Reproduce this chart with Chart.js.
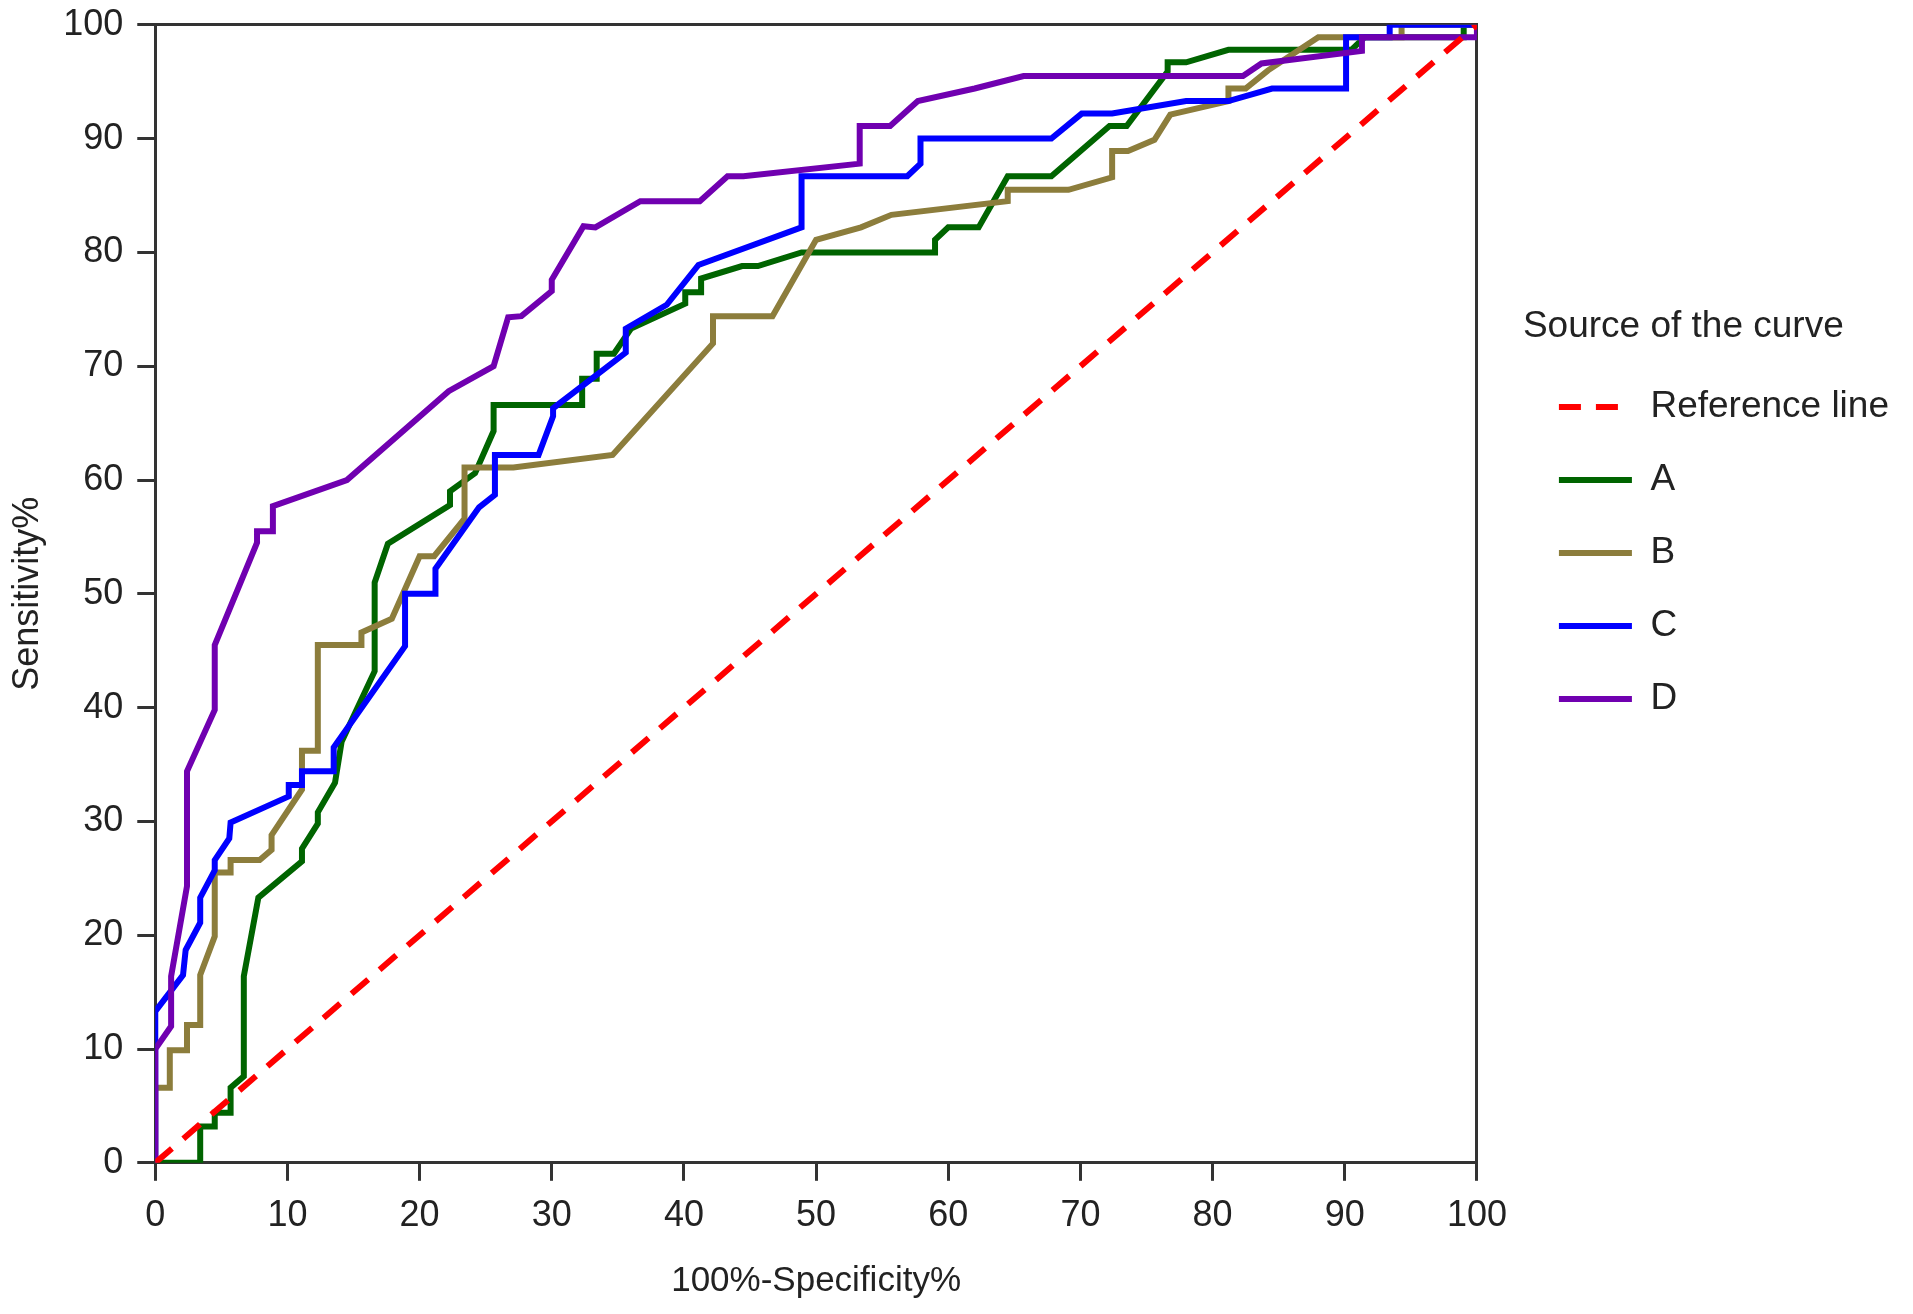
<!DOCTYPE html>
<html>
<head>
<meta charset="utf-8">
<title>ROC curves</title>
<script src="https://cdn.jsdelivr.net/npm/chart.js@4"></script>
<style>
  html, body { margin: 0; padding: 0; background: #fff; }
  #wrap { width: 1913px; height: 1314px; }
</style>
</head>
<body>
<div id="wrap"><canvas id="myChart"></canvas></div>
<script>
// curve data: 100%-Specificity% (x) and Sensitivity% (y)
var refX = [0, 100];
var refY = [0, 100];

var aX = [0, 3.4, 3.4, 4.5, 4.5, 5.7, 5.7, 6.7, 6.7, 7.8, 11.1, 11.1, 12.3, 12.3, 13.6, 14.1, 16.6, 16.6, 17.6, 22.3, 22.3, 24.2, 25.6, 25.6, 32.3, 32.3, 33.4, 33.4, 34.7, 36.0, 40.1, 40.1, 41.3, 41.3, 44.4, 45.6, 48.9, 59.0, 59.0, 60.0, 62.3, 64.5, 67.8, 72.2, 73.5, 76.6, 76.6, 78.0, 81.2, 90.5, 91.5, 99.0, 99.0, 100];
var aY = [0, 0, 3.2, 3.2, 4.4, 4.4, 6.6, 7.6, 16.4, 23.3, 26.5, 27.6, 29.8, 30.8, 33.4, 37.0, 43.2, 51.0, 54.4, 57.8, 59.0, 60.6, 64.3, 66.6, 66.6, 68.9, 68.9, 71.1, 71.1, 73.3, 75.5, 76.5, 76.5, 77.7, 78.8, 78.8, 80.0, 80.0, 81.1, 82.2, 82.2, 86.7, 86.7, 91.1, 91.1, 95.9, 96.7, 96.7, 97.8, 97.8, 98.9, 98.9, 100, 100];

var bX = [0, 0, 1.1, 1.1, 2.4, 2.4, 3.4, 3.4, 4.5, 4.5, 5.7, 5.7, 7.9, 8.8, 8.8, 11.1, 11.1, 12.3, 12.3, 15.6, 15.6, 17.9, 20.0, 21.1, 23.4, 23.4, 27.1, 34.6, 42.2, 42.2, 46.7, 50.0, 53.4, 55.7, 64.5, 64.5, 69.1, 72.4, 72.4, 73.6, 75.6, 76.8, 81.2, 81.2, 82.5, 84.2, 88.0, 94.3, 94.3, 100];
var bY = [0, 6.6, 6.6, 9.9, 9.9, 12.1, 12.1, 16.5, 19.9, 25.5, 25.5, 26.6, 26.6, 27.5, 28.8, 32.8, 36.2, 36.2, 45.5, 45.5, 46.6, 47.8, 53.3, 53.3, 56.6, 61.1, 61.1, 62.2, 72.0, 74.4, 74.4, 81.1, 82.2, 83.3, 84.5, 85.5, 85.5, 86.6, 88.9, 88.9, 89.9, 92.1, 93.3, 94.4, 94.4, 96.0, 98.9, 98.9, 100, 100];

var cX = [0, 0, 2.1, 2.3, 3.4, 3.4, 4.5, 4.5, 5.6, 5.7, 10.1, 10.1, 11.1, 11.1, 13.5, 13.5, 18.9, 18.9, 21.2, 21.2, 24.5, 25.7, 25.7, 29.0, 30.1, 30.1, 35.6, 35.6, 38.7, 41.1, 48.9, 48.9, 56.9, 57.9, 57.9, 67.8, 70.1, 72.4, 78.0, 81.2, 84.5, 90.1, 90.1, 93.4, 93.4, 100];
var cY = [0, 13.3, 16.5, 18.7, 21.1, 23.3, 25.7, 26.6, 28.5, 29.9, 32.2, 33.2, 33.2, 34.4, 34.4, 36.5, 45.4, 50.0, 50.0, 52.2, 57.6, 58.7, 62.2, 62.2, 65.6, 66.3, 71.2, 73.3, 75.4, 78.9, 82.2, 86.7, 86.7, 87.8, 90.0, 90.0, 92.2, 92.2, 93.3, 93.3, 94.4, 94.4, 98.9, 98.9, 100, 100];

var dX = [0, 0, 1.2, 1.2, 2.4, 2.4, 4.5, 4.5, 7.7, 7.7, 8.9, 8.9, 14.5, 22.2, 25.6, 26.7, 27.7, 30.0, 30.0, 32.4, 33.3, 36.7, 41.2, 43.3, 44.5, 53.3, 53.3, 55.6, 57.7, 62.0, 65.7, 82.3, 83.7, 91.3, 91.3, 100, 100];
var dY = [0, 10.0, 12.0, 16.4, 24.3, 34.4, 39.8, 45.5, 54.5, 55.5, 55.5, 57.7, 60.0, 67.8, 70.0, 74.3, 74.4, 76.6, 77.6, 82.3, 82.2, 84.5, 84.5, 86.7, 86.7, 87.8, 91.1, 91.1, 93.3, 94.4, 95.5, 95.5, 96.6, 97.7, 98.9, 98.9, 100];

var xTicks = [0, 10, 20, 30, 40, 50, 60, 70, 80, 90, 100];

function pts(xs, ys) {
    return xs.map(function (x, i) { return { x: x, y: ys[i] }; });
}

var axisColor = '#333333';
var textColor = '#222222';
var fontFamily = "'Liberation Sans', Arial, Helvetica, sans-serif";

var ctx = document.getElementById('myChart').getContext('2d');
var chart = new Chart(ctx, {
    type: 'line',
    data: {
        datasets: [
            { label: 'Reference line', data: pts(refX, refY), borderColor: '#ff0000', borderWidth: 6, borderDash: [22, 15], order: 0 },
            { label: 'A', data: pts(aX, aY), borderColor: '#006400', borderWidth: 6, order: 4 },
            { label: 'B', data: pts(bX, bY), borderColor: '#8c7d3c', borderWidth: 6, order: 3 },
            { label: 'C', data: pts(cX, cY), borderColor: '#0000ff', borderWidth: 6, order: 2 },
            { label: 'D', data: pts(dX, dY), borderColor: '#7000b0', borderWidth: 6, order: 1 }
        ]
    },
    options: {
        responsive: true,
        maintainAspectRatio: false,
        animation: false,
        devicePixelRatio: 1,
        elements: {
            line: { tension: 0, fill: false, borderJoinStyle: 'miter' },
            point: { radius: 0, hoverRadius: 0, pointStyle: 'line' }
        },
        layout: { padding: { left: 2, top: 3, right: 14, bottom: 8 } },
        scales: {
            x: {
                type: 'linear', min: 0, max: 100,
                afterBuildTicks: function (axis) { axis.ticks = xTicks.map(function (v) { return { value: v }; }); },
                grid: { display: true, drawOnChartArea: false, drawTicks: true, tickLength: 18, color: axisColor, lineWidth: 3 },
                border: { display: true, color: axisColor, width: 3 },
                ticks: { color: textColor, padding: 14, maxRotation: 0, font: { family: fontFamily, size: 36 } },
                title: { display: true, text: '100%-Specificity%', color: textColor, padding: { top: 8, bottom: 4 }, font: { family: fontFamily, size: 35 } }
            },
            y: {
                type: 'linear', min: 0, max: 100,
                afterBuildTicks: function (axis) { axis.ticks = xTicks.map(function (v) { return { value: v }; }); },
                grid: { display: true, drawOnChartArea: false, drawTicks: true, tickLength: 18, color: axisColor, lineWidth: 3 },
                border: { display: true, color: axisColor, width: 3 },
                ticks: { color: textColor, padding: 14, font: { family: fontFamily, size: 36, lineHeight: 0.6 } },
                title: { display: true, text: 'Sensitivity%', color: textColor, padding: { top: 4, bottom: 0 }, font: { family: fontFamily, size: 36 } }
            },
            x2: {
                type: 'linear', position: 'top', min: 0, max: 100,
                grid: { display: false, drawTicks: false },
                border: { display: true, color: axisColor, width: 3 },
                ticks: { display: false }
            },
            y2: {
                type: 'linear', position: 'right', min: 0, max: 100,
                grid: { display: true, drawOnChartArea: false, drawTicks: true, tickLength: 46, color: 'rgba(0,0,0,0)' },
                border: { display: true, color: axisColor, width: 3 },
                ticks: { display: false }
            }
        },
        plugins: {
            tooltip: { enabled: false },
            legend: {
                position: 'right',
                align: 'start',
                maxWidth: 420,
                title: {
                    display: true,
                    text: 'Source of the curve',
                    color: textColor,
                    position: 'start',
                    padding: { top: 305, bottom: 0 },
                    font: { family: fontFamily, size: 37 }
                },
                labels: {
                    color: textColor,
                    usePointStyle: true,
                    pointStyle: 'line',
                    pointStyleWidth: 73,
                    boxHeight: 5,
                    padding: 36,
                    font: { family: fontFamily, size: 37 },
                    sort: function (a, b) { return a.datasetIndex - b.datasetIndex; },
                    generateLabels: function (c) {
                        var items = Chart.defaults.plugins.legend.labels.generateLabels(c);
                        items.forEach(function (it) {
                            var ds = c.data.datasets[it.datasetIndex];
                            it.lineDash = ds.borderDash || [];
                            it.lineWidth = ds.borderWidth;
                            it.strokeStyle = ds.borderColor;
                            it.pointStyle = 'line';
                        });
                        return items;
                    }
                }
            }
        }
    }
});
</script>
</body>
</html>
